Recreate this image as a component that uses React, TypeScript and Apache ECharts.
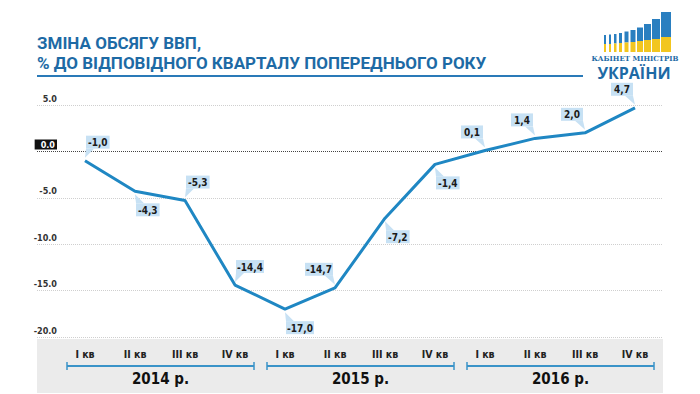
import React, { useEffect, useRef } from 'react';
import * as echarts from 'echarts';

// ---- data ----
const quarters = ['I кв', 'II кв', 'III кв', 'IV кв'];
const years = ['2014 р.', '2015 р.', '2016 р.'];
const gdpChange = [-1.0, -4.3, -5.3, -14.4, -17.0, -14.7, -7.2, -1.4, 0.1, 1.4, 2.0, 4.7];
// callout placement per point: u/d = above/below, r/l = right/left of the point
const calloutSide = ['ur', 'dr', 'ur', 'ur', 'dr', 'ul', 'dr', 'dr', 'ul', 'ul', 'ul', 'ul'];
const yMin = -20;
const yMax = 5;
const yStep = 5;
const titleLines = ['ЗМІНА ОБСЯГУ ВВП,', '% ДО ВІДПОВІДНОГО КВАРТАЛУ ПОПЕРЕДНЬОГО РОКУ'];
const logoLines = ['КАБІНЕТ МІНІСТРІВ', 'УКРАЇНИ'];

// ---- styles ----
const LABEL_FONT = "'Liberation Sans Narrow','DejaVu Sans Condensed','Roboto',sans-serif";
const TITLE_BLUE = '#1d6aa5';
const LINE_BLUE = '#1f87c3';
const BOX = '#c7e1f4';
const BRACKET = '#3a93c8';
const BAND = '#ebebeb';

const categories = years.flatMap(() => quarters);
const fmtComma = (v: number) => v.toFixed(1).replace('.', ',');

function renderCallout(params: any, api: any) {
  const i = params.dataIndex;
  const pt = api.coord([api.value(0), api.value(1)]);
  const px = pt[0];
  const py = pt[1];
  const text = fmtComma(gdpChange[i]);
  const w = Math.max(22, text.length * 4.4 + 6);
  const h = 13;
  const gap = 12;
  const tailW = 8;
  const side = calloutSide[i];
  const up = side[0] === 'u';
  const right = side[1] === 'r';
  const bx = right ? px + 1 : px - 2 - w;
  const by = up ? py - gap - h : py + gap;
  const tipY = up ? py - 3 : py + 3;
  const edgeY = up ? by + h : by;
  const b0 = right ? bx : bx + w - tailW;
  const b1 = right ? bx + tailW : bx + w;
  return {
    type: 'group',
    children: [
      { type: 'rect', shape: { x: bx, y: by, width: w, height: h }, style: { fill: BOX } },
      { type: 'polygon', shape: { points: [[b0, edgeY], [b1, edgeY], [px, tipY]] }, style: { fill: BOX } },
      {
        type: 'text',
        style: {
          x: bx + w / 2,
          y: by + h / 2 + 0.5,
          text,
          align: 'center',
          verticalAlign: 'middle',
          fill: '#1a1a1a',
          font: `bold 10px ${LABEL_FONT}`,
        },
      },
    ],
  };
}

function renderYear(params: any, api: any) {
  const s = api.value(0);
  const a = api.coord([s, api.value(1)]);
  const b = api.coord([s + quarters.length - 1, api.value(1)]);
  const y = a[1] + 29;
  const x0 = a[0] - 18;
  const x1 = b[0] + 19;
  return {
    type: 'group',
    children: [
      { type: 'line', shape: { x1: x0, y1: y, x2: x1, y2: y }, style: { stroke: BRACKET, lineWidth: 2 } },
      { type: 'line', shape: { x1: x0, y1: y - 4, x2: x0, y2: y + 4 }, style: { stroke: BRACKET, lineWidth: 1.5 } },
      { type: 'line', shape: { x1: x1, y1: y - 4, x2: x1, y2: y + 4 }, style: { stroke: BRACKET, lineWidth: 1.5 } },
      {
        type: 'text',
        style: {
          x: (x0 + x1) / 2,
          y: y + 13,
          text: years[params.dataIndex],
          align: 'center',
          verticalAlign: 'middle',
          fill: '#111',
          font: `bold 15px ${LABEL_FONT}`,
        },
      },
    ],
  };
}

// logo bars (decoration): [x, width, top, yellowStart]
const LOGO_BOTTOM = 52;
const logoBars = [
  [604, 2, 35, 44],
  [609, 2, 34.5, 44],
  [614, 2.5, 34, 43.5],
  [619, 3, 33, 43],
  [624.5, 4, 31.5, 42.5],
  [630.5, 5, 30, 42],
  [637, 6, 27.5, 41],
  [644, 7, 24, 40],
  [652, 8, 19, 39],
  [661, 10, 12, 37],
];

export default function App() {
  const ref = useRef<HTMLDivElement>(null);
  useEffect(() => {
    if (!ref.current) return;
    const chart = echarts.init(ref.current, undefined, { renderer: 'svg' });
    const splitColors = [];
    for (let v = yMin; v <= yMax; v += yStep) splitColors.push(v === 0 ? '#444' : '#cfcfcf');

    const logoGraphics: any[] = [];
    logoBars.forEach(([x, w, top, ys]) => {
      logoGraphics.push({ type: 'rect', shape: { x, y: top, width: w, height: ys - top }, style: { fill: '#2a7fc0' } });
      logoGraphics.push({ type: 'rect', shape: { x, y: ys, width: w, height: LOGO_BOTTOM - ys }, style: { fill: '#f2c61f' } });
    });

    const titleStyle = {
      fill: TITLE_BLUE,
      font: "bold 17px Roboto, 'Open Sans', sans-serif",
      align: 'left',
      verticalAlign: 'middle',
    };

    const option: any = {
      animation: false,
      backgroundColor: '#ffffff',
      grid: [
        { left: 37, right: 37, top: 105, bottom: 57 },
        { left: 60, right: 40, top: 105, bottom: 57 },
      ],
      xAxis: [
        { gridIndex: 0, type: 'value', show: false, min: 0, max: 1 },
        {
          gridIndex: 1,
          type: 'category',
          data: categories,
          boundaryGap: true,
          axisLine: { show: false },
          axisTick: { show: false },
          splitLine: { show: false },
          axisLabel: {
            margin: 11,
            color: '#222',
            fontWeight: 'bold',
            fontSize: 10.5,
            fontFamily: LABEL_FONT,
          },
        },
      ],
      yAxis: [
        {
          gridIndex: 0,
          type: 'value',
          min: yMin,
          max: yMax,
          interval: yStep,
          axisLine: { show: false },
          axisTick: { show: false },
          splitLine: { show: true, lineStyle: { type: 'dotted', color: splitColors, width: 1 } },
          axisLabel: {
            inside: true,
            margin: 20,
            align: 'right',
            verticalAlign: 'bottom',
            padding: [0, 0, 2, 0],
            color: '#333',
            fontSize: 9,
            fontWeight: 'bold',
            fontFamily: LABEL_FONT,
            formatter: (v: number) => (v === 0 ? '{z|' + v.toFixed(1) + '}' : v.toFixed(1)),
            rich: {
              z: {
                backgroundColor: '#111',
                color: '#fff',
                fontSize: 9,
                fontWeight: 'bold',
                fontFamily: LABEL_FONT,
                padding: [1, 2, 0, 6],
              },
            },
          },
        },
        { gridIndex: 1, type: 'value', min: yMin, max: yMax, interval: yStep, show: false },
      ],
      series: [
        {
          type: 'line',
          xAxisIndex: 1,
          yAxisIndex: 1,
          data: gdpChange,
          symbol: 'none',
          showSymbol: false,
          lineStyle: { color: LINE_BLUE, width: 3 },
          z: 3,
        },
        {
          type: 'custom',
          xAxisIndex: 1,
          yAxisIndex: 1,
          data: gdpChange.map((v, i) => [i, v]),
          renderItem: renderCallout,
          clip: false,
          z: 4,
        },
        {
          type: 'custom',
          xAxisIndex: 1,
          yAxisIndex: 1,
          data: years.map((_, i) => [i * quarters.length, yMin]),
          renderItem: renderYear,
          clip: false,
          z: 4,
        },
      ],
      graphic: [
        { type: 'rect', z: -10, shape: { x: 37, y: 339, width: 626, height: 54 }, style: { fill: BAND } },
        { type: 'text', x: 37, y: 42.5, style: { ...titleStyle, text: titleLines[0] } },
        { type: 'text', x: 37, y: 62.5, style: { ...titleStyle, text: titleLines[1] } },
        { type: 'line', shape: { x1: 37, y1: 76, x2: 583, y2: 76 }, style: { stroke: '#2a7ab8', lineWidth: 2 } },
        ...logoGraphics,
        {
          type: 'text',
          x: 635,
          y: 58,
          style: { text: logoLines[0], align: 'center', verticalAlign: 'middle', fill: TITLE_BLUE, font: "bold 7px 'DejaVu Serif', serif" },
        },
        {
          type: 'text',
          x: 634,
          y: 73,
          style: { text: logoLines[1], align: 'center', verticalAlign: 'middle', fill: TITLE_BLUE, font: "bold 16px 'Open Sans', sans-serif" },
        },
      ],
    };
    chart.setOption(option);
    return () => chart.dispose();
  }, []);
  return <div ref={ref} style={{ position: 'fixed', left: 0, top: 0, width: 700, height: 394 }} />;
}
